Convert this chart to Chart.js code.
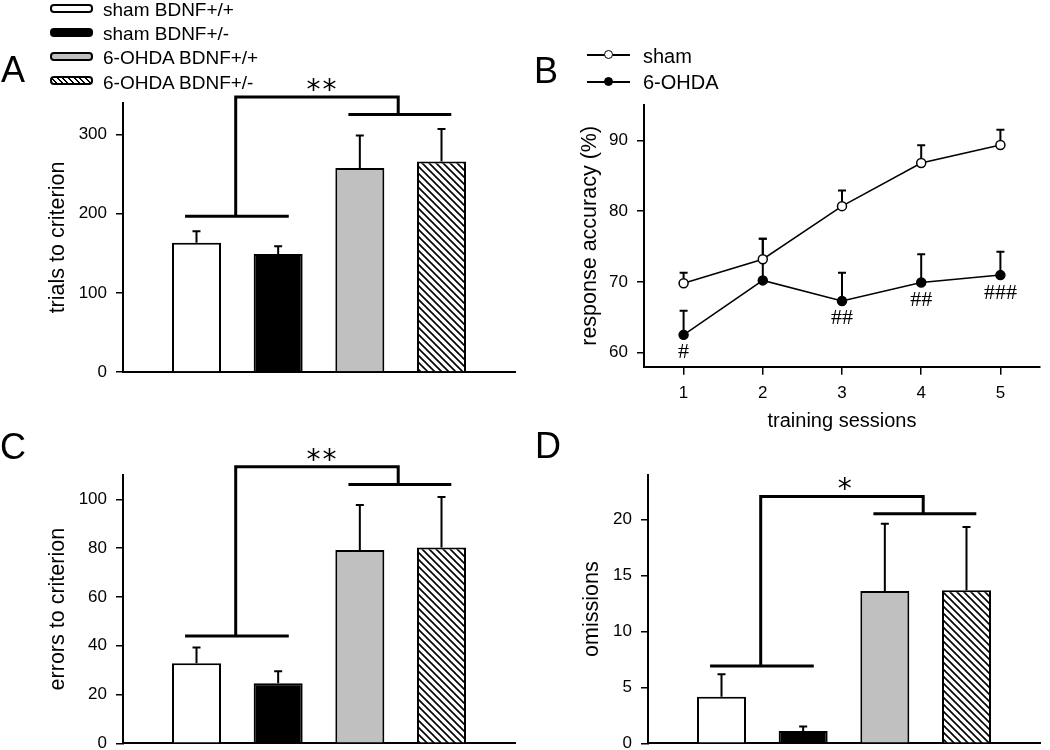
<!DOCTYPE html>
<html lang="en">
<head>
  <meta charset="UTF-8">
  <title>BDNF / 6-OHDA panels</title>
  <script src="https://cdn.jsdelivr.net/npm/chart.js"></script>
  <style>
    html, body { margin: 0; padding: 0; background: #fff; overflow: hidden; }
    body {
      width: 1050px; height: 750px; position: relative;
      font-family: "Liberation Sans", Arial, sans-serif; color: #000;
    }
    .panel { position: absolute; }
    .letter { position: absolute; font-size: 36px; line-height: 36px; z-index: 2; }
    .leg { position: absolute; font-size: 19px; line-height: 19px; white-space: nowrap; z-index: 2; }
    .legB { font-size: 20px; line-height: 20px; }
    .box {
      position: absolute; left: 50px; width: 39px; height: 5px;
      border: 2px solid #000; border-radius: 4px; z-index: 2;
    }
    .hatch { background: repeating-linear-gradient(45deg, #fff 0 2.5px, #000 2.5px 4px); }
    .lline { position: absolute; left: 587px; width: 43px; height: 2px; background: #000; z-index: 2; }
    .mk {
      position: absolute; left: 604px; width: 7px; height: 7px;
      border: 1.5px solid #000; border-radius: 50%; z-index: 3;
    }
  </style>
</head>
<body>
  <div class="letter" style="left:1px; top:52px;">A</div>
  <div class="letter" style="left:534px; top:53px;">B</div>
  <div class="letter" style="left:0px; top:429px;">C</div>
  <div class="letter" style="left:535px; top:428px;">D</div>

  <!-- bar legend -->
  <div class="box" style="top:4px; background:#fff;"></div>
  <div class="leg" style="left:103px; top:0px;">sham BDNF+/+</div>
  <div class="box" style="top:28px; background:#000;"></div>
  <div class="leg" style="left:103px; top:24px;">sham BDNF+/-</div>
  <div class="box" style="top:52px; background:#c0c0c0;"></div>
  <div class="leg" style="left:103px; top:48px;">6-OHDA BDNF+/+</div>
  <div class="box hatch" style="top:76px;"></div>
  <div class="leg" style="left:103px; top:73px;">6-OHDA BDNF+/-</div>

  <!-- line legend -->
  <div class="lline" style="top:54px;"></div>
  <div class="mk" style="top:50px; background:#fff;"></div>
  <div class="leg legB" style="left:643px; top:46px;">sham</div>
  <div class="lline" style="top:81px;"></div>
  <div class="mk" style="top:77px; background:#000;"></div>
  <div class="leg legB" style="left:643px; top:72px;">6-OHDA</div>

  <div class="panel" style="left:0; top:0; width:525px; height:400px;"><canvas id="cA"></canvas></div>
  <div class="panel" style="left:525px; top:0; width:525px; height:440px;"><canvas id="cB"></canvas></div>
  <div class="panel" style="left:0; top:400px; width:525px; height:370px;"><canvas id="cC"></canvas></div>
  <div class="panel" style="left:525px; top:440px; width:525px; height:330px;"><canvas id="cD"></canvas></div>

  <script>
    // groups (bar panels A, C, D)
    const groups = ['sham BDNF+/+', 'sham BDNF+/-', '6-OHDA BDNF+/+', '6-OHDA BDNF+/-'];
    const groupPos = [1, 2, 3, 4];

    const trials = [163.5, 149, 258, 266];
    const trialsSem = [14.5, 10, 41, 41];
    const errorsTo = [32.8, 24.6, 79.2, 80.3];
    const errorsSem = [6.5, 4.9, 18.5, 20.7];
    const omissions = [4.17, 1.1, 13.63, 13.7];
    const omissionsSem = [2.0, 0.4, 6.0, 5.65];

    // panel B
    const sessions = [1, 2, 3, 4, 5];
    const shamAcc = [69.8, 73.2, 80.7, 86.8, 89.35];
    const shamSem = [1.5, 2.9, 2.2, 2.5, 2.15];
    const ohdaAcc = [62.5, 70.2, 67.3, 69.9, 70.95];
    const ohdaSem = [3.4, 5.9, 4.0, 4.0, 3.3];
    const ohdaMarks = ['#', '', '##', '##', '###'];

    // tick labels
    const ticksA = [0, 100, 200, 300];
    const ticksB = [60, 70, 80, 90];
    const ticksC = [0, 20, 40, 60, 80, 100];
    const ticksD = [0, 5, 10, 15, 20];

    // significance brackets, in data units
    const sigA = { low: 197, top: 347.5, high: 325.6, mark: '**', markX: 2.53 };
    const sigC = { low: 44, top: 113.4, high: 106.1, mark: '**', markX: 2.53 };
    const sigD = { low: 6.92, top: 22.08, high: 20.53, mark: '*', markX: 2.51 };

    Chart.defaults.font.family = '"Liberation Sans", Arial, sans-serif';
    Chart.defaults.color = '#000';

    function centerText(ctx, txt, x, cy) {
      const m = ctx.measureText(txt);
      ctx.fillText(txt, x, cy + (m.actualBoundingBoxAscent - m.actualBoundingBoxDescent) / 2);
    }

    function drawErr(chart) {
      const ctx = chart.ctx, y = chart.scales.y;
      chart.data.datasets.forEach((ds, di) => {
        if (!ds.sem) return;
        chart.getDatasetMeta(di).data.forEach((el, i) => {
          const top = y.getPixelForValue(ds.data[i].y + ds.sem[i]);
          ctx.save();
          ctx.strokeStyle = '#000';
          ctx.lineWidth = 2;
          ctx.beginPath();
          ctx.moveTo(el.x, el.y); ctx.lineTo(el.x, top);
          ctx.moveTo(el.x - 4, top); ctx.lineTo(el.x + 4, top);
          ctx.stroke();
          ctx.restore();
        });
      });
    }

    const errPlugin = {
      id: 'errbars',
      beforeDatasetsDraw(chart) { if (chart.config.type === 'line') drawErr(chart); },
      afterDatasetsDraw(chart) {
        if (chart.config.type === 'bar') { drawErr(chart); return; }
        // # marks under the 6-OHDA points
        const ctx = chart.ctx;
        chart.data.datasets.forEach((ds, di) => {
          if (!ds.marks) return;
          chart.getDatasetMeta(di).data.forEach((el, i) => {
            if (!ds.marks[i]) return;
            ctx.save();
            ctx.font = '22px "Liberation Serif", serif';
            ctx.textAlign = 'center';
            ctx.textBaseline = 'alphabetic';
            ctx.fillStyle = '#000';
            centerText(ctx, ds.marks[i], el.x, el.y + 16.5);
            ctx.restore();
          });
        });
      }
    };

    const sigPlugin = {
      id: 'sig',
      afterDraw(chart) {
        const s = chart.config.options.sigBracket;
        if (!s) return;
        const ctx = chart.ctx, x = chart.scales.x, y = chart.scales.y;
        const X = v => x.getPixelForValue(v), Y = v => y.getPixelForValue(v);
        ctx.save();
        ctx.strokeStyle = '#000';
        ctx.lineWidth = 3;
        ctx.lineJoin = 'miter';
        ctx.beginPath();
        ctx.moveTo(X(0.86), Y(s.low)); ctx.lineTo(X(2.13), Y(s.low));
        ctx.moveTo(X(2.86), Y(s.high)); ctx.lineTo(X(4.12), Y(s.high));
        ctx.moveTo(X(1.48), Y(s.low));
        ctx.lineTo(X(1.48), Y(s.top));
        ctx.lineTo(X(3.47), Y(s.top));
        ctx.lineTo(X(3.47), Y(s.high));
        ctx.stroke();
        ctx.font = '28px "DejaVu Sans", sans-serif';
        ctx.textAlign = 'center';
        ctx.textBaseline = 'alphabetic';
        ctx.fillStyle = '#000';
        const n = s.mark.length, cx = X(s.markX), cy = Y(s.top) - 12;
        for (let i = 0; i < n; i++) {
          centerText(ctx, '*', cx + (i - (n - 1) / 2) * 16, cy);
        }
        ctx.restore();
      }
    };

    function yAxis(max, min, ticks, title, titlePad, width) {
      return {
        min: min, max: max,
        afterBuildTicks(s) { s.ticks = ticks.map(v => ({ value: v })); },
        ticks: { padding: 9, font: { size: 17 }, color: '#000' },
        grid: { drawOnChartArea: false, drawTicks: true, tickLength: 7, color: '#000', lineWidth: 1.5 },
        border: { color: '#000', width: 2 },
        title: { display: true, text: title, font: { size: 21.5 }, color: '#000', padding: { top: titlePad, bottom: 0 } },
        afterFit(s) { s.width = width; s.paddingTop = 0; s.paddingBottom = 0; }
      };
    }

    function barPanel(id, values, sem, yMax, ticks, title, titlePad, sig, padTop, xHeight, yWidth) {
      const canvas = document.getElementById(id);
      // diagonal hatch for the last group
      const tile = document.createElement('canvas');
      tile.width = 7; tile.height = 7;
      const g = tile.getContext('2d');
      g.fillStyle = '#fff'; g.fillRect(0, 0, 7, 7);
      g.strokeStyle = '#000'; g.lineWidth = 1.6;
      g.beginPath();
      g.moveTo(-1, -1); g.lineTo(8, 8);
      g.moveTo(-1, 6); g.lineTo(1, 8);
      g.moveTo(6, -1); g.lineTo(8, 1);
      g.stroke();
      const hatch = canvas.getContext('2d').createPattern(tile, 'repeat');

      return new Chart(canvas, {
        type: 'bar',
        data: {
          labels: groups,
          datasets: [{
            data: groupPos.map((p, i) => ({ x: p, y: values[i] })),
            sem: sem,
            backgroundColor: ['#ffffff', '#000000', '#c0c0c0', hatch],
            borderColor: '#000',
            borderWidth: 2,
            barPercentage: 1,
            categoryPercentage: 0.6
          }]
        },
        options: {
          responsive: true,
          maintainAspectRatio: false,
          animation: false,
          devicePixelRatio: 1,
          events: [],
          layout: { padding: { top: padTop, right: 10, bottom: 0, left: 0 } },
          sigBracket: sig,
          plugins: { legend: { display: false }, tooltip: { enabled: false } },
          scales: {
            x: {
              type: 'linear', min: 0.1, max: 4.9, offset: false,
              afterBuildTicks(s) { s.ticks = groupPos.map(v => ({ value: v })); },
              ticks: { display: false },
              grid: { display: false, offset: false },
              border: { color: '#000', width: 2 },
              afterFit(s) { s.height = xHeight; s.paddingLeft = 0; s.paddingRight = 0; }
            },
            y: yAxis(yMax, 0, ticks, title, titlePad, yWidth)
          }
        },
        plugins: [errPlugin, sigPlugin]
      });
    }

    barPanel('cA', trials, trialsSem, 340, ticksA, 'trials to criterion', 45, sigA, 103, 28, 123);
    barPanel('cC', errorsTo, errorsSem, 110, ticksC, 'errors to criterion', 45, sigC, 75, 26.7, 123);
    barPanel('cD', omissions, omissionsSem, 24, ticksD, 'omissions', 53.8, sigD, 35, 26.7, 123);

    new Chart(document.getElementById('cB'), {
      type: 'line',
      data: {
        datasets: [
          {
            label: 'sham',
            data: sessions.map((s, i) => ({ x: s, y: shamAcc[i] })),
            sem: shamSem,
            borderColor: '#000', borderWidth: 1.5,
            pointRadius: 4.5, pointBackgroundColor: '#fff',
            pointBorderColor: '#000', pointBorderWidth: 1.5
          },
          {
            label: '6-OHDA',
            data: sessions.map((s, i) => ({ x: s, y: ohdaAcc[i] })),
            sem: ohdaSem,
            marks: ohdaMarks,
            borderColor: '#000', borderWidth: 1.5,
            pointRadius: 4.5, pointBackgroundColor: '#000',
            pointBorderColor: '#000', pointBorderWidth: 1.5
          }
        ]
      },
      options: {
        responsive: true,
        maintainAspectRatio: false,
        animation: false,
        devicePixelRatio: 1,
        events: [],
        layout: { padding: { top: 105, right: 10, bottom: 0, left: 0 } },
        plugins: { legend: { display: false }, tooltip: { enabled: false } },
        scales: {
          x: {
            type: 'linear', min: 0.5, max: 5.5,
            afterBuildTicks(s) { s.ticks = sessions.map(v => ({ value: v })); },
            ticks: { padding: 8, font: { size: 17 }, color: '#000' },
            grid: { drawOnChartArea: false, drawTicks: true, tickLength: 8, color: '#000', lineWidth: 1.5 },
            border: { color: '#000', width: 2 },
            title: { display: true, text: 'training sessions', font: { size: 20 }, color: '#000', padding: { top: 0, bottom: 6.3 } },
            afterFit(s) { s.height = 73.3; s.paddingLeft = 0; s.paddingRight = 0; }
          },
          y: yAxis(95, 58, ticksB, 'response accuracy (%)', 52, 119)
        }
      },
      plugins: [errPlugin]
    });
  </script>
</body>
</html>
